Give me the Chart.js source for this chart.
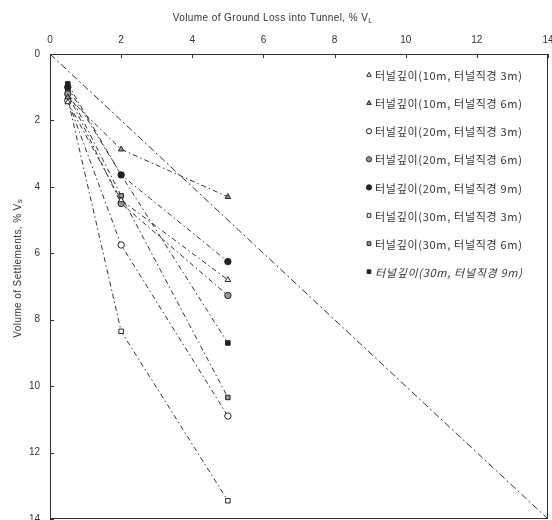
<!DOCTYPE html>
<html>
<head>
<meta charset="utf-8">
<script src="https://cdn.jsdelivr.net/npm/chart.js@4.4.0/dist/chart.umd.min.js"></script>
<style>
  html, body { margin: 0; background: #fff; }
  #wrap { width: 552px; height: 520px; position: relative; }
</style>
</head>
<body>
<div id="wrap"><canvas id="c"></canvas></div>
<script>
// ground loss steps (% VL) used in every run
const lossX = [0.5, 2, 5];

// settlement volume (% Vs) for each depth / diameter case
const d10m3 = [1.45, 4.4, 6.8];
const d10m6 = [1.3, 2.87, 4.3];
const d20m3 = [1.4, 5.75, 10.9];
const d20m6 = [1.2, 4.5, 7.27];
const d20m9 = [1.0, 3.64, 6.25];
const d30m3 = [1.35, 8.35, 13.45];
const d30m6 = [1.1, 4.27, 10.34];
const d30m9 = [0.9, 3.64, 8.7];

const caseLabels = [
    '터널깊이(10m, 터널직경 3m)',
    '터널깊이(10m, 터널직경 6m)',
    '터널깊이(20m, 터널직경 3m)',
    '터널깊이(20m, 터널직경 6m)',
    '터널깊이(20m, 터널직경 9m)',
    '터널깊이(30m, 터널직경 3m)',
    '터널깊이(30m, 터널직경 6m)',
    '터널깊이(30m, 터널직경 9m)'
];
const caseValues = [ d10m3, d10m6, d20m3, d20m6, d20m9, d30m3, d30m6, d30m9 ];
const caseMarkers = [ 'triangle', 'triangle', 'circle', 'circle', 'circle', 'rect', 'rect', 'rect' ];
const caseFills = [ '#fff', '#999', '#fff', '#999', '#222', '#fff', '#999', '#222' ];

// Vs = VL reference line
const equalLine = [ { x: 0, y: 0 }, { x: 14, y: 14 } ];

const axisTicks = [ 0, 2, 4, 6, 8, 10, 12, 14 ];

const INK = '#333';
const FONT = '"Liberation Sans", "Noto Sans CJK KR", sans-serif';
const KFONT = '"Noto Sans CJK KR", "Liberation Sans", sans-serif';

const datasets = caseValues.map( ( vals, i ) => ( {
    label: caseLabels[ i ],
    data: vals.map( ( v, k ) => ( { x: lossX[ k ], y: v } ) ),
    showLine: true,
    borderColor: INK,
    borderWidth: 1,
    borderDash: [ 5, 3, 1.5, 3 ],
    pointStyle: caseMarkers[ i ],
    pointRadius: 3.2,
    pointBorderWidth: 1,
    pointBackgroundColor: caseFills[ i ],
    pointBorderColor: '#222'
} ) );

datasets.push( {
    label: '',
    data: equalLine,
    showLine: true,
    borderColor: INK,
    borderWidth: 1,
    borderDash: [ 7, 3, 2, 3 ],
    pointRadius: 0
} );

// frame, inward ticks, axis titles and the in-plot legend
const decorPlugin = {
    id: 'decor',
    afterDraw ( chart ) {
        const { ctx, chartArea: a, scales } = chart;
        ctx.save();
        ctx.strokeStyle = INK;
        ctx.lineWidth = 1;
        ctx.setLineDash( [] );
        ctx.strokeRect( a.left + 0.5, a.top + 0.5, a.width - 1, a.height - 1 );

        ctx.beginPath();
        axisTicks.forEach( t => {
            const px = Math.round( scales.x.getPixelForValue( t ) ) + 0.5;
            ctx.moveTo( px, a.top );
            ctx.lineTo( px, a.top + 4 );
            const py = Math.round( scales.y.getPixelForValue( t ) ) + 0.5;
            ctx.moveTo( a.left, py );
            ctx.lineTo( a.left + 4, py );
        } );
        ctx.stroke();

        // titles
        ctx.fillStyle = INK;
        ctx.font = '10px ' + FONT;
        ctx.letterSpacing = '0.4px';
        ctx.textBaseline = 'alphabetic';
        const xt = 'Volume of Ground Loss into Tunnel, % V';
        const xtw = ctx.measureText( xt ).width;
        const xtx = 273 - ( xtw + 5 ) / 2;
        ctx.textAlign = 'left';
        ctx.fillText( xt, xtx, 21 );
        ctx.font = '7px ' + FONT;
        ctx.fillText( 'L', xtx + xtw, 23 );

        ctx.save();
        ctx.translate( 21, 268 );
        ctx.rotate( -Math.PI / 2 );
        ctx.font = '10px ' + FONT;
        const yt = 'Volume of Settlements, % V';
        const ytw = ctx.measureText( yt ).width;
        const ytx = -( ytw + 5 ) / 2;
        ctx.fillText( yt, ytx, 0 );
        ctx.font = '8px ' + FONT;
        ctx.fillText( 's', ytx + ytw, 1 );
        ctx.restore();

        // legend
        const lx = a.right - 179;
        ctx.letterSpacing = '0.7px';
        chart.data.datasets.forEach( ( ds, i ) => {
            if ( !ds.label ) return;
            const ly = a.top + 21 + i * 28.1;
            ctx.lineWidth = 1;
            ctx.strokeStyle = '#222';
            ctx.fillStyle = ds.pointBackgroundColor;
            Chart.helpers.drawPoint( ctx, {
                pointStyle: ds.pointStyle, radius: 2.6, rotation: 0, borderWidth: 1
            }, lx, ly );
            ctx.fillStyle = INK;
            ctx.font = ( i === 7 ? 'italic ' : '' ) + '11px ' + KFONT;
            ctx.textAlign = 'left';
            ctx.textBaseline = 'middle';
            ctx.fillText( ds.label, lx + 6, ly + 1 );
        } );
        ctx.restore();
    }
};

const canvas = document.getElementById( 'c' );
new Chart( canvas.getContext( '2d' ), {
    type: 'scatter',
    data: { datasets },
    options: {
        responsive: true,
        maintainAspectRatio: false,
        animation: false,
        layout: { autoPadding: false, padding: { top: 0, right: 4, bottom: 1, left: 0 } },
        plugins: {
            legend: { display: false },
            tooltip: { enabled: false }
        },
        scales: {
            x: {
                type: 'linear',
                position: 'top',
                min: 0,
                max: 14,
                afterFit: s => { s.height = 54; s.paddingLeft = 0; s.paddingRight = 0; },
                afterBuildTicks: s => { s.ticks = axisTicks.map( v => ( { value: v } ) ); },
                ticks: { color: INK, font: { family: FONT, size: 10 }, padding: 8 },
                grid: { display: false, drawTicks: false },
                border: { display: false }
            },
            y: {
                type: 'linear',
                reverse: true,
                min: 0,
                max: 14,
                afterFit: s => { s.width = 50; s.paddingTop = 0; s.paddingBottom = 0; },
                afterBuildTicks: s => { s.ticks = axisTicks.map( v => ( { value: v } ) ); },
                ticks: { color: INK, font: { family: FONT, size: 10 }, padding: 10 },
                grid: { display: false, drawTicks: false },
                border: { display: false }
            }
        }
    },
    plugins: [ decorPlugin ]
} );
</script>
</body>
</html>
